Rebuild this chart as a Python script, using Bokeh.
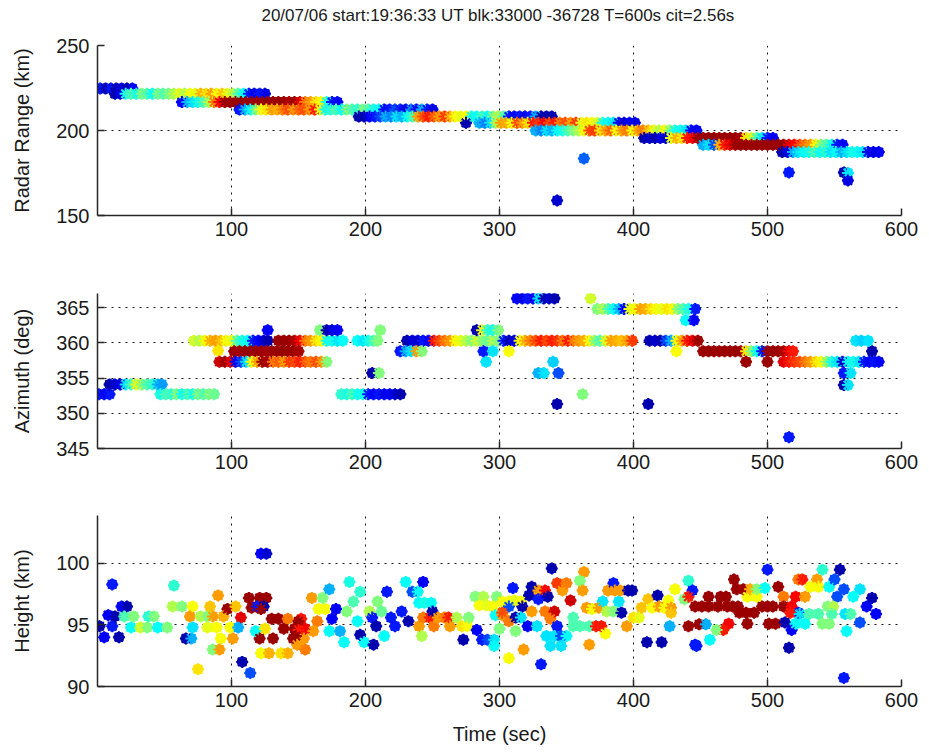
from bokeh.plotting import figure
from bokeh.models import ColumnDataSource, FixedTicker, Range1d
from bokeh.core.properties import value
from bokeh.layouts import column
from bokeh.transform import linear_cmap
from bokeh.embed import file_html
from bokeh.resources import INLINE

TITLE = "20/07/06 start:19:36:33 UT blk:33000 -36728 T=600s cit=2.56s"
x_ticks = [100, 200, 300, 400, 500, 600]

# ---------------- Panel 1: radar range (km) ----------------
range_t = [
    2, 6, 10, 14, 18, 22, 26,
    13, 17, 21, 25, 29, 33, 37, 41, 45, 49, 53, 57, 61, 65, 69, 73, 77, 81, 85, 89, 93, 97, 101, 105, 109, 113, 117, 121, 125,
    63, 67, 71, 75, 79, 83, 87, 91, 95, 99, 103, 107, 111, 115, 119, 123, 127, 131, 135, 139, 143, 147, 151, 155, 159, 163, 167, 171, 175, 179,
    106, 110, 114, 118, 122, 126, 130, 134, 138, 142, 146, 150, 154, 158, 162, 166, 170, 174, 178, 182, 186, 190, 194, 198, 202, 206, 210, 214, 218, 222, 226, 230, 234, 238, 242, 246, 250,
    195, 199, 203, 207, 211, 215, 219, 223, 227, 231, 235, 239, 243, 247, 251, 255, 259, 263, 267, 271, 275, 279, 283, 287, 291, 295, 299, 303, 307, 311, 315, 319, 323, 327, 331, 335, 339,
    275, 285, 289, 293, 297, 301, 305, 309, 313, 317, 321, 325, 329, 333, 337, 341, 345, 349, 353, 357, 361, 365, 369, 373, 377, 381, 385, 389, 393, 397, 401,
    327, 331, 335, 339, 343, 347, 351, 355, 359, 363, 367, 371, 375, 379, 383, 387, 391, 395, 399, 403, 407, 411, 415, 419, 423, 427, 431, 435, 439, 443, 447,
    408, 412, 416, 420, 424, 428, 432, 436, 440, 444, 448, 452, 456, 460, 464, 468, 472, 476, 480, 484, 488, 492, 496, 500, 504,
    452, 456, 460, 464, 468, 472, 476, 480, 484, 488, 492, 496, 500, 504, 508, 512, 516, 520, 524, 528, 532, 536, 540, 544, 548, 552, 556,
    511, 515, 519, 523, 527, 531, 535, 539, 543, 547, 551, 555, 559, 563, 567, 571, 575, 579, 583,
    343, 363, 516, 557, 560, 560,
]
range_km = [
    224.7, 224.7, 224.7, 224.7, 224.7, 224.7, 224.7,
    221.6, 221.6, 221.6, 221.6, 221.6, 221.6, 221.6, 221.6, 221.6, 221.6, 221.6, 221.6, 221.6, 221.6, 221.6, 221.6, 221.6, 221.6, 221.6, 221.6, 221.6, 221.6, 221.6, 221.6, 221.6, 221.6, 221.6, 221.6, 221.6,
    216.7, 216.7, 216.7, 216.7, 216.7, 216.7, 216.7, 216.7, 216.7, 216.7, 216.7, 216.7, 216.7, 216.7, 216.7, 216.7, 216.7, 216.7, 216.7, 216.7, 216.7, 216.7, 216.7, 216.7, 216.7, 216.7, 216.7, 216.7, 216.7, 216.7,
    212.3, 212.3, 212.3, 212.3, 212.3, 212.3, 212.3, 212.3, 212.3, 212.3, 212.3, 212.3, 212.3, 212.3, 212.3, 212.3, 212.3, 212.3, 212.3, 212.3, 212.3, 212.3, 212.3, 212.3, 212.3, 212.3, 212.3, 212.3, 212.3, 212.3, 212.3, 212.3, 212.3, 212.3, 212.3, 212.3, 212.3,
    208.2, 208.2, 208.2, 208.2, 208.2, 208.2, 208.2, 208.2, 208.2, 208.2, 208.2, 208.2, 208.2, 208.2, 208.2, 208.2, 208.2, 208.2, 208.2, 208.2, 208.2, 208.2, 208.2, 208.2, 208.2, 208.2, 208.2, 208.2, 208.2, 208.2, 208.2, 208.2, 208.2, 208.2, 208.2, 208.2, 208.2,
    204.5, 204.5, 204.5, 204.5, 204.5, 204.5, 204.5, 204.5, 204.5, 204.5, 204.5, 204.5, 204.5, 204.5, 204.5, 204.5, 204.5, 204.5, 204.5, 204.5, 204.5, 204.5, 204.5, 204.5, 204.5, 204.5, 204.5, 204.5, 204.5, 204.5, 204.5,
    200.0, 200.0, 200.0, 200.0, 200.0, 200.0, 200.0, 200.0, 200.0, 200.0, 200.0, 200.0, 200.0, 200.0, 200.0, 200.0, 200.0, 200.0, 200.0, 200.0, 200.0, 200.0, 200.0, 200.0, 200.0, 200.0, 200.0, 200.0, 200.0, 200.0, 200.0,
    195.6, 195.6, 195.6, 195.6, 195.6, 195.6, 195.6, 195.6, 195.6, 195.6, 195.6, 195.6, 195.6, 195.6, 195.6, 195.6, 195.6, 195.6, 195.6, 195.6, 195.6, 195.6, 195.6, 195.6, 195.6,
    191.6, 191.6, 191.6, 191.6, 191.6, 191.6, 191.6, 191.6, 191.6, 191.6, 191.6, 191.6, 191.6, 191.6, 191.6, 191.6, 191.6, 191.6, 191.6, 191.6, 191.6, 191.6, 191.6, 191.6, 191.6, 191.6, 191.6,
    187.3, 187.3, 187.3, 187.3, 187.3, 187.3, 187.3, 187.3, 187.3, 187.3, 187.3, 187.3, 187.3, 187.3, 187.3, 187.3, 187.3, 187.3, 187.3,
    158.8, 183.5, 175.3, 175.3, 175.0, 170.6,
]
range_c = [
    0.15, 0.05, 0.15, 0.05, 0.1, 0.05, 0.12,
    0.05, 0.1, 0.4, 0.45, 0.4, 0.5, 0.45, 0.38, 0.5, 0.45, 0.5, 0.55, 0.6, 0.55, 0.62, 0.6, 0.7, 0.65, 0.72, 0.62, 0.68, 0.6, 0.55, 0.45, 0.38, 0.15, 0.1, 0.15, 0.1,
    0.12, 0.3, 0.35, 0.4, 0.45, 0.55, 0.75, 0.88, 0.97, 0.97, 0.97, 0.98, 0.97, 0.97, 0.97, 0.97, 0.98, 0.97, 0.97, 0.97, 0.95, 0.97, 0.9, 0.75, 0.72, 0.65, 0.62, 0.4, 0.15, 0.12,
    0.15, 0.3, 0.38, 0.5, 0.62, 0.65, 0.72, 0.7, 0.75, 0.8, 0.72, 0.78, 0.8, 0.72, 0.85, 0.6, 0.4, 0.42, 0.45, 0.38, 0.5, 0.45, 0.42, 0.5, 0.45, 0.4, 0.38, 0.12, 0.15, 0.2, 0.15, 0.1, 0.25, 0.12, 0.3, 0.15, 0.1,
    0.05, 0.05, 0.12, 0.15, 0.2, 0.3, 0.25, 0.35, 0.3, 0.38, 0.45, 0.72, 0.8, 0.85, 0.78, 0.72, 0.82, 0.7, 0.62, 0.6, 0.62, 0.4, 0.38, 0.45, 0.38, 0.5, 0.55, 0.45, 0.15, 0.12, 0.15, 0.1, 0.15, 0.3, 0.05, 0.05, 0.05,
    0.05, 0.3, 0.25, 0.35, 0.55, 0.72, 0.7, 0.62, 0.8, 0.72, 0.65, 0.85, 0.82, 0.88, 0.8, 0.85, 0.75, 0.8, 0.72, 0.82, 0.6, 0.65, 0.62, 0.58, 0.4, 0.38, 0.35, 0.12, 0.08, 0.12, 0.1,
    0.3, 0.25, 0.35, 0.3, 0.38, 0.4, 0.45, 0.5, 0.55, 0.62, 0.8, 0.82, 0.65, 0.72, 0.78, 0.62, 0.72, 0.75, 0.62, 0.72, 0.75, 0.68, 0.6, 0.55, 0.62, 0.5, 0.4, 0.38, 0.35, 0.12, 0.12,
    0.05, 0.08, 0.05, 0.1, 0.08, 0.6, 0.7, 0.65, 0.85, 0.88, 0.97, 0.97, 0.97, 0.98, 0.97, 0.97, 0.97, 0.97, 0.96, 0.65, 0.58, 0.45, 0.35, 0.15, 0.12,
    0.3, 0.35, 0.2, 0.7, 0.85, 0.9, 0.97, 0.97, 0.97, 0.97, 0.97, 0.97, 0.97, 0.97, 0.97, 0.97, 0.9, 0.88, 0.8, 0.75, 0.72, 0.62, 0.5, 0.45, 0.38, 0.15, 0.12,
    0.05, 0.1, 0.3, 0.35, 0.38, 0.4, 0.45, 0.38, 0.42, 0.35, 0.38, 0.3, 0.35, 0.4, 0.38, 0.35, 0.12, 0.1, 0.12,
    0.08, 0.22, 0.15, 0.05, 0.35, 0.1,
]

# ---------------- Panel 2: azimuth (deg) ----------------
az_t = [
    1, 5, 9,
    9, 13, 17, 21, 25, 29, 33, 37, 41, 45, 48,
    47, 51, 55, 59, 63, 67, 71, 75, 79, 83, 87,
    72, 76, 80, 84, 88, 92, 96, 100, 104, 108, 112, 116, 120, 124, 127,
    135, 139, 143, 147, 151, 155, 159, 163, 167, 171, 175, 179, 183,
    194, 198, 202, 206, 209,
    231, 235, 239, 243, 247, 251, 255, 259, 263, 267, 271, 275, 279, 283, 287, 291, 295, 299, 303,
    307, 311, 315, 319, 323, 327, 331, 335, 339, 343, 347, 351, 355, 359, 363, 367, 371, 375, 379, 383, 387, 391, 395, 399,
    412, 416, 420, 424, 428, 432, 436, 440, 444, 448,
    127, 166, 171, 175, 179, 211, 283, 287, 291, 295, 299,
    90,
    102, 106, 110, 114, 118, 122, 126, 130, 134, 138, 142, 146, 150,
    226, 230, 234, 238, 242,
    288, 295, 307, 432,
    452, 456, 460, 464, 468, 472, 476, 480, 484, 488, 492, 496, 500, 504, 508, 512, 516, 519,
    578,
    91, 95, 99, 103, 107, 111, 115, 119, 123, 127, 131, 135, 139, 143, 147, 151, 155, 159, 163, 167, 171,
    290, 340, 484, 500,
    512, 516, 520, 524, 528, 532, 536, 540, 544, 548, 552, 556, 560, 564, 568, 572, 576, 580, 583,
    205, 210, 329, 333, 344, 557, 562,
    557, 560,
    313, 317, 321, 325, 329, 333, 337, 341, 368,
    373, 377, 381, 385, 389, 393, 397, 401, 405, 409, 413, 417, 421, 425, 429, 433, 437, 441, 446,
    439, 445,
    566, 570, 575,
    182, 186, 190, 194, 198, 202, 206, 210, 214, 218, 222, 226, 362,
    343, 411, 516,
]
az_deg = [
    352.7, 352.7, 352.7,
    354.1, 354.1, 354.1, 354.1, 354.1, 354.1, 354.1, 354.1, 354.1, 354.1, 354.1,
    352.7, 352.7, 352.7, 352.7, 352.7, 352.7, 352.7, 352.7, 352.7, 352.7, 352.7,
    360.3, 360.3, 360.3, 360.3, 360.3, 360.3, 360.3, 360.3, 360.3, 360.3, 360.3, 360.3, 360.3, 360.3, 360.3,
    360.3, 360.3, 360.3, 360.3, 360.3, 360.3, 360.3, 360.3, 360.3, 360.3, 360.3, 360.3, 360.3,
    360.3, 360.3, 360.3, 360.3, 360.3,
    360.3, 360.3, 360.3, 360.3, 360.3, 360.3, 360.3, 360.3, 360.3, 360.3, 360.3, 360.3, 360.3, 360.3, 360.3, 360.3, 360.3, 360.3, 360.3,
    360.3, 360.3, 360.3, 360.3, 360.3, 360.3, 360.3, 360.3, 360.3, 360.3, 360.3, 360.3, 360.3, 360.3, 360.3, 360.3, 360.3, 360.3, 360.3, 360.3, 360.3, 360.3, 360.3, 360.3,
    360.3, 360.3, 360.3, 360.3, 360.3, 360.3, 360.3, 360.3, 360.3, 360.3,
    361.8, 361.8, 361.8, 361.8, 361.8, 361.8, 361.8, 361.8, 361.8, 361.8, 361.8,
    358.9,
    358.8, 358.8, 358.8, 358.8, 358.8, 358.8, 358.8, 358.8, 358.8, 358.8, 358.8, 358.8, 358.8,
    358.8, 358.8, 358.8, 358.8, 358.8,
    358.8, 358.8, 358.8, 358.8,
    358.8, 358.8, 358.8, 358.8, 358.8, 358.8, 358.8, 358.8, 358.8, 358.8, 358.8, 358.8, 358.8, 358.8, 358.8, 358.8, 358.8, 358.8,
    358.8,
    357.3, 357.3, 357.3, 357.3, 357.3, 357.3, 357.3, 357.3, 357.3, 357.3, 357.3, 357.3, 357.3, 357.3, 357.3, 357.3, 357.3, 357.3, 357.3, 357.3, 357.3,
    357.3, 357.3, 357.3, 357.3,
    357.3, 357.3, 357.3, 357.3, 357.3, 357.3, 357.3, 357.3, 357.3, 357.3, 357.3, 357.3, 357.3, 357.3, 357.3, 357.3, 357.3, 357.3, 357.3,
    355.7, 355.7, 355.7, 355.7, 355.7, 355.7, 355.7,
    354.0, 354.0,
    366.3, 366.3, 366.3, 366.3, 366.3, 366.3, 366.3, 366.3, 366.3,
    364.8, 364.8, 364.8, 364.8, 364.8, 364.8, 364.8, 364.8, 364.8, 364.8, 364.8, 364.8, 364.8, 364.8, 364.8, 364.8, 364.8, 364.8, 364.8,
    363.2, 363.2,
    360.3, 360.3, 360.3,
    352.7, 352.7, 352.7, 352.7, 352.7, 352.7, 352.7, 352.7, 352.7, 352.7, 352.7, 352.7, 352.7,
    351.3, 351.3, 346.6,
]
az_c = [
    0.15, 0.12, 0.15,
    0.05, 0.08, 0.1, 0.35, 0.45, 0.6, 0.5, 0.45, 0.42, 0.3, 0.28,
    0.4, 0.45, 0.42, 0.5, 0.38, 0.45, 0.4, 0.5, 0.45, 0.5, 0.48,
    0.58, 0.55, 0.62, 0.7, 0.72, 0.68, 0.62, 0.6, 0.45, 0.4, 0.38, 0.15, 0.12, 0.08, 0.05,
    0.97, 0.97, 0.97, 0.95, 0.88, 0.75, 0.72, 0.65, 0.62, 0.38, 0.4, 0.35, 0.38,
    0.38, 0.35, 0.4, 0.45, 0.5,
    0.05, 0.1, 0.08, 0.15, 0.12, 0.85, 0.8, 0.75, 0.72, 0.62, 0.6, 0.55, 0.5, 0.58, 0.5, 0.48, 0.55, 0.5, 0.15,
    0.05, 0.1, 0.62, 0.7, 0.75, 0.8, 0.85, 0.8, 0.85, 0.82, 0.75, 0.85, 0.75, 0.72, 0.7, 0.62, 0.5, 0.45, 0.6, 0.72, 0.7, 0.68, 0.72, 0.82,
    0.05, 0.08, 0.05, 0.2, 0.3, 0.62, 0.72, 0.85, 0.9, 0.97,
    0.12, 0.5, 0.05, 0.1, 0.12, 0.5, 0.05, 0.6, 0.42, 0.4, 0.5,
    0.65,
    0.97, 0.96, 0.97, 0.98, 0.97, 0.97, 0.96, 0.97, 0.97, 0.98, 0.97, 0.97, 0.96,
    0.15, 0.3, 0.35, 0.72, 0.5,
    0.15, 0.35, 0.62, 0.62,
    0.97, 0.97, 0.97, 0.97, 0.97, 0.97, 0.97, 0.97, 0.65, 0.5, 0.38, 0.15, 0.97, 0.97, 0.97, 0.95, 0.88, 0.85,
    0.05,
    0.92, 0.97, 0.9, 0.12, 0.2, 0.35, 0.62, 0.72, 0.97, 0.95, 0.75, 0.78, 0.72, 0.82, 0.8, 0.85, 0.78, 0.75, 0.8, 0.72, 0.5,
    0.35, 0.33, 0.97, 0.97,
    0.9, 0.85, 0.82, 0.8, 0.75, 0.72, 0.65, 0.62, 0.5, 0.4, 0.35, 0.08, 0.38, 0.4, 0.35, 0.15, 0.12, 0.15, 0.12,
    0.05, 0.5, 0.3, 0.35, 0.2, 0.15, 0.35,
    0.05, 0.35,
    0.12, 0.1, 0.15, 0.12, 0.35, 0.05, 0.08, 0.05, 0.58,
    0.5, 0.55, 0.45, 0.38, 0.3, 0.12, 0.6, 0.62, 0.72, 0.7, 0.65, 0.62, 0.6, 0.65, 0.62, 0.5, 0.45, 0.4, 0.15,
    0.38, 0.12,
    0.35, 0.33, 0.35,
    0.42, 0.4, 0.45, 0.38, 0.4, 0.15, 0.12, 0.15, 0.1, 0.12, 0.08, 0.05, 0.5,
    0.05, 0.05, 0.15,
]

# ---------------- Panel 3: height (km) ----------------
h_t = [
    1.5, 11, 5, 16, 8, 13, 18, 22, 11,
    20, 27, 38, 42, 25, 32, 37, 45, 52,
    57, 56, 63, 71, 69, 77, 82, 86, 94,
    66, 70, 71, 82, 89, 84, 90, 92, 86, 91,
    75, 97, 103, 99, 101, 107, 105, 113, 121, 126,
    115, 119, 124, 122, 118, 121, 130, 135, 142, 152,
    125, 139, 147, 155, 131, 146, 154, 122, 128, 137,
    142, 108, 114, 122, 126,
    150, 150, 148, 149, 155, 160, 168, 165, 170, 164,
    161, 173, 178, 175, 173, 181, 184, 188, 196, 191,
    186, 194, 196, 199, 203, 205, 208, 206, 209, 212,
    214, 216, 219, 222, 227, 230, 235, 239, 243, 232,
    240, 244, 249, 240, 243, 248, 250, 251, 254, 259,
    262, 263, 272, 276, 268, 277, 242, 273, 283, 287,
    291, 296, 296, 282, 288, 298, 285, 290, 295, 297,
    302, 300,
    310, 324, 339, 302, 307, 311, 316, 307, 317, 322,
    329, 334, 343, 347, 350, 363, 360, 362, 329, 336,
    353, 324, 334, 341, 302, 307, 312, 316, 321, 328,
    338, 343, 312, 335, 341, 346, 350, 338, 346, 355,
    355, 360, 367, 372, 376, 379, 365, 369, 374, 377,
    380, 385, 381, 385, 386, 389, 391, 395, 390, 396,
    399, 400, 404, 367, 318, 307, 331, 406, 411, 418,
    414, 419, 426, 423, 428, 431, 438, 441, 444, 441,
    446, 441, 410, 421, 427, 446, 428,
    451, 456, 463, 470, 474, 456, 465, 469, 475, 477,
    482, 485, 492, 487, 492, 498, 479, 484, 490, 478,
    496, 500, 504, 500, 508, 501, 506, 485, 449, 454,
    471, 467, 462, 457, 447, 512, 521, 528, 512, 518,
    523, 517, 513, 518, 516, 523, 526, 537, 541, 532,
    538, 546, 550, 554, 552, 557, 569, 564, 574, 578,
    581, 524, 531, 538, 545, 549, 548, 558, 562, 521,
    528, 541, 546, 559, 569, 557,
]
h_km = [
    94.9, 94.9, 94.0, 94.0, 95.8, 95.7, 96.5, 96.5, 98.3,
    95.7, 95.7, 95.7, 95.7, 94.8, 94.8, 94.8, 94.8, 94.8,
    98.2, 96.5, 96.5, 96.5, 95.7, 95.7, 95.7, 95.7, 95.7,
    93.9, 93.9, 94.8, 94.8, 94.8, 96.5, 97.4, 93.9, 93.0, 93.0,
    91.4, 96.3, 96.5, 94.8, 93.9, 95.6, 94.8, 97.2, 97.2, 97.2,
    96.4, 96.5, 96.5, 96.3, 94.5, 93.9, 95.5, 95.5, 95.5, 95.5,
    94.7, 94.7, 94.7, 94.7, 93.9, 93.9, 93.9, 92.7, 92.7, 92.7,
    92.7, 92.0, 91.1, 100.8, 100.8,
    95.3, 94.6, 94.1, 93.4, 93.0, 97.2, 97.2, 96.3, 96.3, 95.3,
    94.5, 97.9, 96.3, 95.5, 94.5, 94.5, 93.6, 98.5, 97.7, 96.9,
    96.1, 95.3, 94.2, 93.6, 96.1, 95.6, 94.9, 93.4, 96.9, 96.1,
    94.1, 97.7, 95.6, 94.9, 96.1, 98.5, 97.7, 97.7, 98.5, 95.3,
    96.8, 96.8, 96.8, 94.9, 95.6, 95.6, 96.1, 94.9, 95.6, 95.6,
    95.6, 94.9, 94.9, 94.9, 95.6, 95.6, 94.1, 93.8, 94.6, 93.8,
    93.8, 93.8, 93.3, 97.3, 97.3, 97.3, 96.6, 96.6, 96.5, 95.8,
    95.8, 94.7,
    98.0, 98.1, 99.6, 96.9, 96.9, 97.0, 96.9, 96.5, 96.5, 97.4,
    97.8, 97.8, 98.4, 97.8, 98.4, 99.3, 98.6, 97.8, 97.1, 97.3,
    97.0, 96.1, 96.1, 96.1, 96.0, 95.3, 95.6, 95.6, 94.9, 94.9,
    95.5, 94.9, 94.5, 94.1, 94.1, 94.1, 94.1, 93.3, 93.3, 95.6,
    94.9, 94.9, 94.9, 94.9, 94.9, 94.3, 96.4, 96.3, 96.4, 96.9,
    96.1, 96.1, 97.8, 98.4, 97.8, 96.9, 96.0, 94.9, 97.8, 97.8,
    97.8, 95.6, 95.6, 93.4, 93.0, 92.3, 91.8, 96.4, 97.1, 97.4,
    96.4, 96.5, 97.0, 96.4, 96.4, 97.9, 97.1, 98.6, 97.8, 97.3,
    96.5, 94.9, 93.6, 93.6, 94.9, 93.4, 96.0,
    96.5, 96.5, 96.5, 96.5, 96.5, 97.3, 97.3, 97.3, 98.7, 97.9,
    97.9, 97.3, 97.3, 97.9, 97.9, 98.0, 96.0, 96.0, 96.0, 96.5,
    96.5, 96.5, 96.5, 99.5, 98.1, 95.1, 95.1, 95.1, 95.05, 95.05,
    95.1, 94.6, 94.6, 93.8, 93.3, 97.3, 97.3, 97.3, 96.5, 96.5,
    96.0, 96.0, 95.2, 94.6, 93.15, 98.7, 98.7, 98.7, 99.5, 98.1,
    98.1, 98.1, 98.7, 99.5, 97.3, 97.9, 97.9, 97.3, 96.5, 97.2,
    95.9, 95.9, 95.9, 95.9, 96.5, 96.5, 95.9, 95.9, 95.9, 95.1,
    95.1, 95.1, 95.1, 94.5, 95.2, 90.7,
]
h_c = [
    0.05, 0.15, 0.12, 0.05, 0.12, 0.05, 0.12, 0.05, 0.15,
    0.45, 0.5, 0.42, 0.5, 0.38, 0.58, 0.5, 0.38, 0.5,
    0.42, 0.55, 0.5, 0.62, 0.72, 0.55, 0.5, 0.72, 0.7,
    0.05, 0.3, 0.35, 0.6, 0.62, 0.68, 0.72, 0.62, 0.5, 0.72,
    0.65, 0.97, 0.68, 0.62, 0.72, 0.9, 0.3, 0.97, 0.97, 0.97,
    0.97, 0.15, 0.05, 0.97, 0.38, 0.97, 0.97, 0.97, 0.75, 0.85,
    0.65, 0.97, 0.97, 0.88, 0.97, 0.97, 0.72, 0.62, 0.7, 0.65,
    0.7, 0.05, 0.2, 0.12, 0.08,
    0.97, 0.85, 0.97, 0.72, 0.75, 0.72, 0.5, 0.62, 0.62, 0.75,
    0.72, 0.3, 0.12, 0.12, 0.38, 0.3, 0.38, 0.4, 0.42, 0.45,
    0.5, 0.38, 0.05, 0.38, 0.55, 0.15, 0.05, 0.05, 0.5, 0.48,
    0.38, 0.15, 0.15, 0.15, 0.15, 0.38, 0.2, 0.38, 0.12, 0.05,
    0.38, 0.4, 0.38, 0.72, 0.75, 0.85, 0.05, 0.75, 0.72, 0.75,
    0.85, 0.72, 0.65, 0.62, 0.55, 0.5, 0.55, 0.05, 0.12, 0.15,
    0.2, 0.35, 0.38, 0.5, 0.55, 0.5, 0.62, 0.6, 0.62, 0.38,
    0.72, 0.5,
    0.15, 0.05, 0.05, 0.62, 0.62, 0.6, 0.62, 0.2, 0.05, 0.05,
    0.72, 0.88, 0.82, 0.72, 0.75, 0.72, 0.5, 0.72, 0.15, 0.05,
    0.92, 0.72, 0.75, 0.92, 0.8, 0.75, 0.05, 0.35, 0.12, 0.35,
    0.75, 0.15, 0.5, 0.35, 0.35, 0.2, 0.38, 0.35, 0.35, 0.45,
    0.45, 0.45, 0.45, 0.85, 0.85, 0.62, 0.72, 0.62, 0.72, 0.35,
    0.55, 0.5, 0.72, 0.15, 0.72, 0.35, 0.05, 0.72, 0.72, 0.05,
    0.05, 0.65, 0.6, 0.72, 0.72, 0.62, 0.15, 0.68, 0.68, 0.05,
    0.62, 0.72, 0.62, 0.62, 0.72, 0.62, 0.5, 0.42, 0.15, 0.85,
    0.97, 0.97, 0.05, 0.05, 0.3, 0.15, 0.68,
    0.97, 0.97, 0.97, 0.97, 0.97, 0.97, 0.97, 0.97, 0.97, 0.97,
    0.97, 0.62, 0.62, 0.7, 0.5, 0.38, 0.97, 0.97, 0.97, 0.97,
    0.97, 0.97, 0.97, 0.15, 0.97, 0.97, 0.97, 0.97, 0.97, 0.3,
    0.88, 0.85, 0.5, 0.38, 0.15, 0.75, 0.88, 0.72, 0.97, 0.88,
    0.15, 0.85, 0.05, 0.12, 0.05, 0.75, 0.85, 0.72, 0.42, 0.62,
    0.62, 0.38, 0.2, 0.05, 0.2, 0.2, 0.35, 0.38, 0.12, 0.05,
    0.12, 0.35, 0.45, 0.45, 0.5, 0.55, 0.45, 0.35, 0.45, 0.38,
    0.38, 0.5, 0.5, 0.38, 0.2, 0.15,
]


def jet_palette(n=256):
    pal = []
    for i in range(n):
        v = i / (n - 1)
        r = min(max(1.5 - abs(4 * v - 3), 0.0), 1.0)
        g = min(max(1.5 - abs(4 * v - 2), 0.0), 1.0)
        b = min(max(1.5 - abs(4 * v - 1), 0.0), 1.0)
        pal.append("#%02x%02x%02x" % (int(r * 255), int(g * 255), int(b * 255)))
    return pal


JET = jet_palette()
FONT = "Liberation Sans"
TXT = "#1a1a1a"
LBL = "20px"


def make_panel(height, top, bottom, y0, y1, yticks, ylabel, xs, ys, cs, xlabel=None):
    p = figure(width=929, height=height, x_range=Range1d(0, 600), y_range=Range1d(y0, y1),
               output_backend="svg", toolbar_location=None,
               min_border_left=97, min_border_right=28, min_border_top=top, min_border_bottom=bottom)
    p.background_fill_color = "white"
    p.border_fill_color = "white"
    p.outline_line_color = None
    n = min(len(xs), len(ys), len(cs))
    src = ColumnDataSource(dict(x=xs[:n], y=ys[:n], c=cs[:n]))
    cmap = linear_cmap("c", JET, 0.0, 1.0)
    p.scatter("x", "y", source=src, marker="circle", size=10, fill_color=cmap, line_color=cmap)
    p.scatter("x", "y", source=src, marker="asterisk", size=12, line_color=cmap, line_width=2)

    p.xaxis.ticker = FixedTicker(ticks=x_ticks)
    p.yaxis.ticker = FixedTicker(ticks=yticks)
    for ax in (p.xaxis[0], p.yaxis[0]):
        ax.major_tick_in = 7
        ax.major_tick_out = 0
        ax.minor_tick_line_color = None
        ax.axis_line_color = "#262626"
        ax.axis_line_width = 1.5
        ax.major_tick_line_color = "#262626"
        ax.major_tick_line_width = 1.5
        ax.major_label_text_font = FONT
        ax.major_label_text_font_size = LBL
        ax.major_label_text_color = TXT
        ax.axis_label_text_font = FONT
        ax.axis_label_text_font_size = LBL
        ax.axis_label_text_font_style = "normal"
        ax.axis_label_text_color = TXT
    p.xaxis.major_label_standoff = 6
    p.yaxis.major_label_standoff = 8
    p.yaxis.axis_label = ylabel
    p.yaxis.axis_label_standoff = 20
    if xlabel:
        p.xaxis.axis_label = xlabel
        p.xaxis.axis_label_standoff = 13
    for g in (p.xgrid[0], p.ygrid[0]):
        g.grid_line_color = "black"
        g.grid_line_dash = "2 5"
        g.grid_line_width = 1
        g.grid_line_alpha = 0.9
    return p


# title strip: a bare figure with pixel-valued ranges
pt = figure(width=929, height=33, x_range=Range1d(0, 929), y_range=Range1d(0, 33),
            output_backend="svg", toolbar_location=None, x_axis_type=None, y_axis_type=None,
            min_border=0, min_border_left=0, min_border_right=0, min_border_top=0, min_border_bottom=0)
pt.outline_line_color = None
pt.xgrid.visible = False
pt.ygrid.visible = False
pt.background_fill_color = "white"
pt.border_fill_color = "white"
pt.text(x=[463], y=[18], text=[TITLE], text_align="center", text_baseline="middle",
        text_font=value(FONT), text_font_size="17px", text_color=TXT)

p1 = make_panel(222, 12, 40, 150, 250, [150, 200, 250], "Radar Range (km)",
                range_t, range_km, range_c)
p2 = make_panel(225, 38, 32, 345, 367, [345, 350, 355, 360, 365], "Azimuth (deg)",
                az_t, az_deg, az_c)
p3 = make_panel(274, 35, 68, 90, 103.9, [90, 95, 100], "Height (km)",
                h_t, h_km, h_c, xlabel="Time (sec)")

layout = column(pt, p1, p2, p3, spacing=0)
open("out.html", "w").write(file_html(layout, INLINE))
